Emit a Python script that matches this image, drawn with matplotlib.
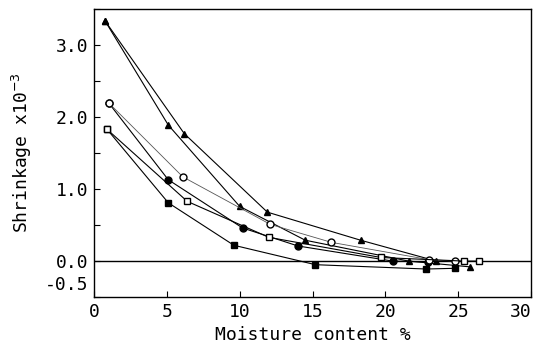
import matplotlib
matplotlib.use("Agg")
import matplotlib.pyplot as plt
import matplotlib.transforms as mtransforms
from matplotlib.ticker import MultipleLocator

# Moisture content (%) and shrinkage (x10^-3)
tri_a_x = [0.75, 5.1, 10.0, 14.5, 21.6, 25.8]
tri_a_y = [3.34, 1.89, 0.76, 0.29, 0.0, -0.08]

tri_b_x = [0.75, 6.2, 11.9, 18.3, 23.5]
tri_b_y = [3.34, 1.77, 0.68, 0.29, 0.0]

ocirc_x = [1.0, 6.1, 12.1, 16.3, 23.0, 24.8]
ocirc_y = [2.2, 1.17, 0.51, 0.26, 0.02, 0.0]

fcirc_x = [1.0, 5.1, 10.2, 14.0, 20.5, 22.9]
fcirc_y = [2.2, 1.13, 0.46, 0.21, 0.0, -0.01]

osq_x = [0.9, 6.4, 12.0, 19.7, 25.4, 26.4]
osq_y = [1.83, 0.83, 0.33, 0.05, 0.0, 0.0]

fsq_x = [0.9, 5.1, 9.6, 15.2, 22.8, 24.8]
fsq_y = [1.83, 0.81, 0.22, -0.05, -0.11, -0.1]

x_ticks = [0, 5, 10, 15, 20, 25, 30]
y_ticks = [-0.5, 0.0, 1.0, 2.0, 3.0]
y_tick_labels = ["-0.5", "0.0", "1.0", "2.0", "3.0"]

plt.rcParams["font.family"] = "DejaVu Sans Mono"

fig = plt.figure(figsize=(5.37, 3.52), dpi=100)
ax = fig.add_axes([0.175, 0.156, 0.814, 0.818])

lw = 0.8
ms = 5
# filled series first so the shared start points show the open symbols
ax.plot(fcirc_x, fcirc_y, "-o", color="black", lw=lw, ms=ms)
ax.plot(fsq_x, fsq_y, "-s", color="black", lw=lw, ms=ms)
ax.plot(tri_a_x, tri_a_y, "-^", color="black", lw=lw, ms=ms)
ax.plot(tri_b_x, tri_b_y, "-^", color="black", lw=lw, ms=ms)
ax.plot(ocirc_x, ocirc_y, "-o", color="#555555", lw=0.6, ms=ms,
        mfc="white", mec="black")
ax.plot(osq_x, osq_y, "-s", color="black", lw=lw, ms=ms,
        mfc="white", mec="black")

ax.axhline(0, color="black", lw=1.0, zorder=0)

ax.set_xlim(0, 30)
ax.set_ylim(-0.5, 3.5)
ax.set_xticks(x_ticks)
ax.set_yticks(y_ticks)
ax.set_yticklabels(y_tick_labels)
ax.yaxis.set_minor_locator(MultipleLocator(0.5))
ax.tick_params(direction="in", length=4, width=0.8, pad=4, labelsize=13)
ax.tick_params(which="minor", direction="in", length=4, width=0.8)

# last x label kept inside the figure, bottom y label lifted off the corner
ax.get_xticklabels()[-1].set_ha("right")
lbl = ax.get_yticklabels()[0]
lbl.set_transform(lbl.get_transform() +
                  mtransforms.ScaledTranslation(0, 0.14, fig.dpi_scale_trans))

for s in ax.spines.values():
    s.set_linewidth(1.0)

ax.set_xlabel("Moisture content %", fontsize=13, labelpad=4)
ax.set_ylabel("Shrinkage x10$^{-3}$", fontsize=13, labelpad=8)

fig.savefig("out.png", dpi=100)
